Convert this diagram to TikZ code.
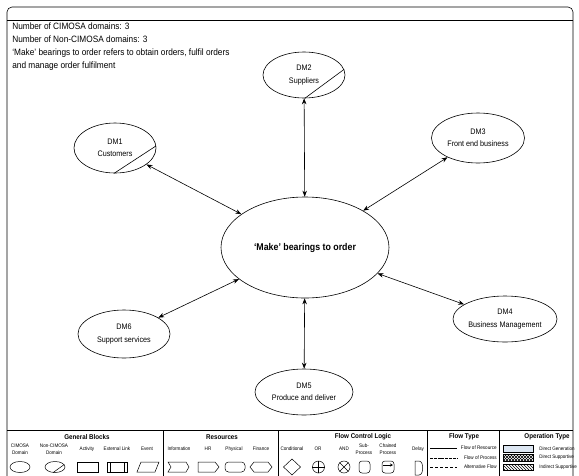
\documentclass[tikz,border=0pt]{standalone}
\usepackage{fontspec}
\setmainfont{Liberation Sans}[FakeStretch=0.9]
\usetikzlibrary{arrows.meta,shapes.geometric,patterns}

\begin{document}
\begin{tikzpicture}[x=1pt,y=-1pt,line width=0.6pt,
  dom/.style={ellipse,draw,inner sep=0,align=center,font=\fontsize{8}{12.3}\selectfont},
  link/.style={{Stealth[length=6pt,width=4.5pt]}-{Stealth[length=6pt,width=4.5pt]}},
  lgtitle/.style={font=\fontsize{6.9}{8}\selectfont\bfseries,inner sep=0},
  lglabel/.style={font=\fontsize{5.1}{7}\selectfont,align=center,inner sep=0},
  fltext/.style={font=\fontsize{5.1}{7}\selectfont,inner sep=0,anchor=east},
  optext/.style={font=\fontsize{5}{7}\selectfont,inner sep=0,anchor=west},
]
\useasboundingbox (0,0) rectangle (579,475);

% frame, header band and legend band
\draw[rounded corners=5] (7,482) -- (7,7) -- (573,7) -- (573,482);
\draw (7,20) -- (573,20);
\draw (7,430) -- (573,430);
\foreach \xx in {163,278,427,499} \draw (\xx,430) -- (\xx,482);

% description
\node[anchor=north west,align=left,inner sep=0,font=\fontsize{9.2}{13}\selectfont] (desc) at (12,22.5)
  {Number of CIMOSA domains: 3\\Number of Non-CIMOSA domains: 3\\‘Make’ bearings to order refers to obtain orders, fulfil orders\\and manage order fulfilment};

% central activity
\node[ellipse,draw,inner sep=0,minimum width=168,minimum height=101,font=\fontsize{9.8}{12}\selectfont\bfseries] (core) at (305,247.5) {‘Make’ bearings to order};

% domains
\node[dom,minimum width=82,minimum height=50] (dm1) at (115,148) {DM1\\Customers};
\node[dom,minimum width=82,minimum height=46] (dm2) at (304,75) {DM2\\Suppliers};
\node[dom,minimum width=93,minimum height=50] (dm3) at (478,138) {DM3\\Front end business};
\node[dom,minimum width=104,minimum height=46] (dm4) at (505,319) {DM4\\Business Management};
\node[dom,minimum width=98,minimum height=46] (dm5) at (304,392) {DM5\\Produce and deliver};
\node[dom,minimum width=92,minimum height=48] (dm6) at (124,334) {DM6\\Support services};

% non-CIMOSA markers
\draw (dm1.-92) -- (dm1.3);
\draw (dm2.-88) -- (dm2.8);

% links
\foreach \d in {dm1,dm2,dm3,dm4,dm5,dm6} \draw[link] (core) -- (\d);

% ---------- legend ----------
\node[lgtitle] (tgb) at (87,437) {General Blocks};
\node[lgtitle] (tres) at (222,437) {Resources};
\node[lgtitle] (tfc) at (363,437) {Flow Control Logic};
\node[lgtitle] (tft) at (464,437) {Flow Type};
\node[lgtitle] (tot) at (547,437) {Operation Type};

\node[lglabel] at (20,449) {CIMOSA\\Domain};
\node[lglabel] at (54,449) {Non-CIMOSA\\Domain};
\node[lglabel] at (87,449) {Activity};
\node[lglabel] at (117,449) {External Link};
\node[lglabel] at (147,449) {Event};
\node[lglabel] at (179,449) {Information};
\node[lglabel] at (208,449) {HR};
\node[lglabel] at (234,449) {Physical};
\node[lglabel] at (261,449) {Finance};
\node[lglabel] at (292,449) {Conditional};
\node[lglabel] at (318,449) {OR};
\node[lglabel] at (344,449) {AND};
\node[lglabel] at (364,449) {Sub-\\Process};
\node[lglabel] at (388,449) {Chained\\Process};
\node[lglabel] at (418,449) {Delay};

\begin{scope}[line width=0.5pt]
% general blocks
\node[ellipse,draw,inner sep=0,minimum width=20,minimum height=11] (lgcim) at (20,467) {};
\node[ellipse,draw,inner sep=0,minimum width=20,minimum height=11] (lgnon) at (55,467) {};
\draw (lgnon.-110) -- (lgnon.15);
\draw (77,462) rectangle (98,472);
\draw (107,462) rectangle (127,472);
\draw (110,462) -- (110,472) (124,462) -- (124,472);
\draw (137,472) -- (141,462) -- (159,462) -- (155,472) -- cycle;
% resources
\draw (168,462) -- (186,462) -- (189,467) -- (186,472) -- (168,472) -- (171,467) -- cycle;
\draw (198,462) -- (215,462) -- (219,467) -- (215,472) -- (198,472) -- cycle;
\draw[rounded corners=3.5] (225,462) rectangle (245,472);
\draw (254,462) -- (268,462) -- (272,467) -- (268,472) -- (254,472) -- (250,467) -- cycle;
% flow control
\draw (292,459) -- (300.5,467) -- (292,475) -- (283.5,467) -- cycle;
\node[circle,draw,inner sep=0,minimum size=12] (lgor) at (318.5,467) {};
\draw (lgor.north) -- (lgor.south) (lgor.west) -- (lgor.east);
\node[circle,draw,inner sep=0,minimum size=12] (lgand) at (344,467) {};
\draw (lgand.45) -- (lgand.225) (lgand.135) -- (lgand.315);
\draw[rounded corners=3] (359,461) rectangle (370,473);
\draw[rounded corners=3] (382,461) rectangle (394,473);
\draw[-{Stealth[length=3pt,width=3pt]}] (383,465) -- (393,465);
\draw (415,461) -- (419,461) .. controls (424,461) and (424,475) .. (419,475) -- (415,475) -- cycle;
% flow types
\draw (430,448) -- (457,448);
\draw[line width=1pt,dash pattern=on 3pt off 0.8pt] (430,458) -- (457,458);
\draw[dash pattern=on 3pt off 2pt] (430,467) -- (457,467);
% operation types
\draw[fill={rgb,255:red,220;green,230;blue,242}] (503,445) rectangle (533,452);
\draw[pattern=north east lines] (503,454) rectangle (533,461);
\draw[pattern=north west lines] (503,454) rectangle (533,461);
\draw[pattern=north west lines] (503,464) rectangle (533,470);
\end{scope}

\node[fltext] at (497,448) {Flow of Resource};
\node[fltext] at (497,458) {Flow of Process};
\node[fltext] at (497,467) {Alternative Flow};
\node[optext] at (539,448.5) {Direct Generation};
\node[optext] at (539,457.5) {Direct Supportive};
\node[optext] at (539,467) {Indirect Supportive};
\end{tikzpicture}
\end{document}
